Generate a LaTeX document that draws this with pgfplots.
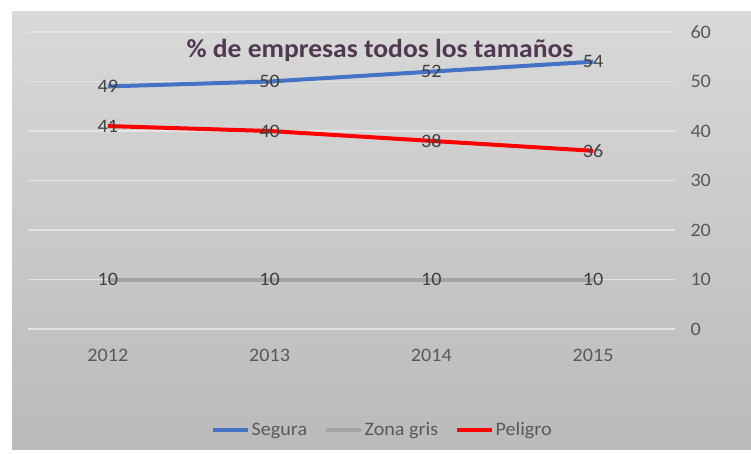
\documentclass[border=0pt]{standalone}
\usepackage{pgfplots}
\pgfplotsset{compat=1.18}
\usepackage{fontspec}
\setmainfont{Carlito}[FakeStretch=1.06]
\definecolor{bgtop}{HTML}{D9D9D9}
\definecolor{bgbot}{HTML}{BABABA}
\definecolor{gridc}{HTML}{E4E4E4}
\definecolor{tickc}{HTML}{595959}
\definecolor{labc}{HTML}{404040}
\definecolor{titlec}{HTML}{503850}
\definecolor{segura}{HTML}{4472C4}
\definecolor{zona}{HTML}{A5A5A5}
\definecolor{peligro}{HTML}{FF0000}
\begin{document}
\begin{tikzpicture}
\fill[white] (0,0) rectangle (751bp,454bp);
\shade[top color=bgtop, bottom color=bgbot] (12bp,4bp) rectangle (751bp,442bp);
\begin{axis}[
  at={(28bp,125bp)}, anchor=south west,
  scale only axis, width=647bp, height=297bp,
  xmin=-0.494, xmax=3.506, ymin=0, ymax=60,
  xtick={0,1,2,3}, xticklabels={2012,2013,2014,2015},
  ytick={0,10,20,30,40,50,60},
  yticklabel pos=right,
  axis line style={draw=none},
  major tick length=0pt,
  ymajorgrids, grid style={gridc, line width=1.2bp},
  /pgf/number format/assume math mode=true,
  tick label style={font=\fontsize{19bp}{22bp}\selectfont, text=tickc},
  yticklabel style={anchor=west, xshift=12bp},
  xticklabel style={yshift=-17bp},
  nodes near coords,
  nodes near coords style={anchor=center, font=\fontsize{19bp}{22bp}\selectfont, text=labc},
  legend columns=-1,
  legend style={at={(0.547,-0.34)}, anchor=center, draw=none, fill=none,
    font=\fontsize{19bp}{22bp}\selectfont, text=tickc,
    /tikz/every even column/.append style={column sep=16bp},
    nodes={inner sep=1bp}},
  legend image code/.code={\draw[#1, line width=4.5bp] (0bp,0bp) -- (35bp,0bp);},
  clip=false,
]
\addplot[segura, line width=4bp] coordinates {(0,49) (1,50) (2,52) (3,54)};
\addlegendentry{Segura}
\addplot[zona, line width=4bp] coordinates {(0,10) (1,10) (2,10) (3,10)};
\addlegendentry{Zona gris}
\addplot[peligro, line width=4bp] coordinates {(0,41) (1,40) (2,38) (3,36)};
\addlegendentry{Peligro}
\node[font=\bfseries\fontsize{26bp}{30bp}\selectfont, text=titlec] at (rel axis cs:0.544,0.939) {\% de empresas todos los tamaños};
\end{axis}
\end{tikzpicture}
\end{document}
